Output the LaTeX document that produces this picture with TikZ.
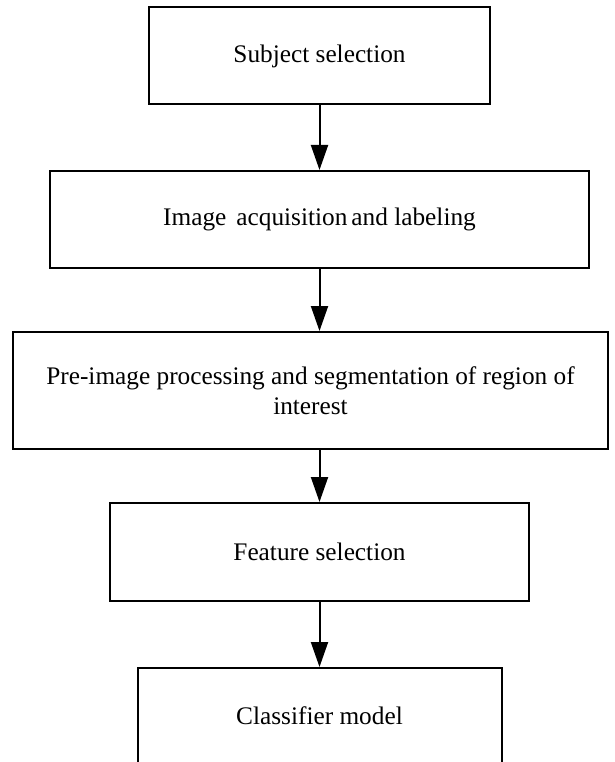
\documentclass[tikz,border=0pt]{standalone}
\usepackage{fontspec}
\setmainfont{Liberation Serif}
\usetikzlibrary{arrows.meta,calc}

\tikzset{
  stagebox/.style={draw=black, line width=2pt, fill=white, inner sep=0pt,
    align=center, font=\fontsize{25.3}{30.4}\selectfont},
  flow/.style={line width=2pt, -{Triangle[length=25pt,width=17pt]}}
}

\begin{document}
\begin{tikzpicture}[x=1pt,y=-1pt]
  \useasboundingbox[fill=white] (0,0) rectangle (614,762);

  % process stages, top to bottom
  \node[stagebox, minimum width=341pt, minimum height=97pt]   (s1) at (319.5,56)    {Subject selection};
  \node[stagebox, minimum width=539pt, minimum height=96.5pt] (s2) at (319.5,219.25) {Image\hspace{10pt}acquisition\hspace{4pt}and labeling};
  \node[stagebox, minimum width=595pt, minimum height=117pt]  (s3) at (310.5,390.5)  {Pre-image processing and segmentation of region of\\interest};
  \node[stagebox, minimum width=419pt, minimum height=98pt]   (s4) at (319.5,552)    {Feature selection};
  \node[stagebox, minimum width=364pt, minimum height=96pt]   (s5) at (319.5,716)    {Classifier model};

  % connectors between stages
  \draw[flow] (s1.south) -- (s2.north);
  \draw[flow] (s2.south) -- (s2.south |- s3.north);
  \draw[flow] (s2.south |- s3.south) -- (s4.north);
  \draw[flow] (s4.south) -- (s5.north);
\end{tikzpicture}
\end{document}
